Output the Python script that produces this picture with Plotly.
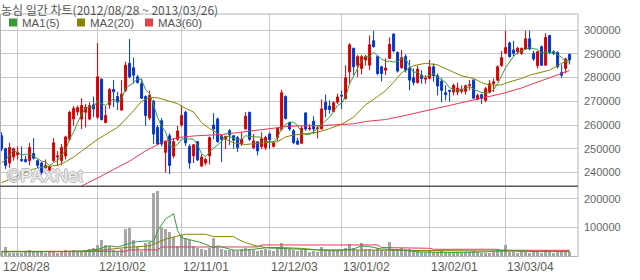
import plotly.graph_objects as go
import pandas as pd

W, H = 640, 280
def px(x): return x / W
def py(y): return 1 - y / H

# ---------------- data ----------------
opens = [255500,250000,244000,246500,247500,245500,245500,245000,248000,245000,
         244000,242000,241000,245000,246500,245000,247000,254000,262500,265500,
         262500,265400,262500,268500,263300,279300,261000,268500,275000,272000,
         266300,274600,286000,284100,280300,277400,272000,263000,270000,259000,
         261800,248500,255500,247000,254000,260000,265400,251000,247000,253000,
         242700,244000,247000,260000,262500,255500,254000,257600,255500,254700,
         252000,258300,265400,250500,252900,250900,250500,256200,251000,254800,
         258300,272000,261100,257600,253300,252300,265100,258300,261600,258500,
         258300,269600,268000,265700,269600,272500,271100,282400,292300,285200,
         283800,287400,285200,295500,288800,284500,283100,288100,298300,290600,
         284100,288800,284100,279900,277900,281000,279300,279600,284500,280700,
         278400,273600,274600,273900,273900,274200,274200,276700,278900,270800,
         272800,270400,273900,277400,278900,285000,290200,294500,291600,290900,
         290200,292000,296300,290200,285000,293000,285200,297700,290900,290600,
         282100,283800,289800]
highs = [257000,250500,252500,250500,251000,251000,247000,252500,254500,245500,
         244500,245500,243000,254500,249000,252000,255500,266000,268000,268200,
         271300,268900,269600,272000,294500,279600,268000,275500,279000,274000,
         279000,286700,296200,288400,281000,279600,272500,274500,270500,260000,
         263000,253300,256500,254500,259600,268200,266000,251900,252000,253300,
         247700,246200,255200,265000,263200,255500,255400,258300,255700,255400,
         256900,265400,265400,256200,253300,256900,255500,256900,253300,259000,
         274900,272500,261400,258300,254700,259700,265400,260400,263700,259700,
         270800,272800,270400,270000,273200,274600,285200,294500,292600,289500,
         289500,289500,297700,299700,289500,285000,288100,296900,298600,290900,
         291600,289800,287400,283800,285000,283100,281000,287400,286000,281700,
         279600,276700,274900,277400,277900,276700,277000,278900,279300,273200,
         273200,276000,278900,279600,285200,291200,299700,295200,295500,293000,
         292600,299700,299700,291200,291200,293500,298700,298000,291500,290900,
         285500,288400,290000]
lows = [249000,241500,242000,245000,245500,244500,244500,243000,245500,241500,
        239000,239500,240500,244500,243000,243000,245500,253200,259700,264000,
        258300,259000,262000,263300,262500,261900,260800,266800,267500,266300,
        266000,273900,279600,277400,277400,271100,259700,262000,252000,251500,
        251000,240000,239300,246000,253300,259300,251200,241600,244000,244800,
        242400,243000,243400,254000,252600,244400,249800,251500,250000,248700,
        251200,258300,253300,249800,247200,249800,249500,250000,250500,253300,
        257600,262300,257600,251900,251600,252200,257600,257600,256200,254300,
        258300,263300,264700,265400,268900,266800,270800,277500,281000,280300,
        281300,285000,283100,292600,281000,278400,281000,287800,290600,282100,
        283800,282100,274600,276700,277400,277400,277400,279300,278200,272500,
        269600,270400,269900,272500,272500,273200,272800,274600,271100,270400,
        268900,269600,273600,273900,278400,284500,289800,288400,288800,289800,
        289500,291600,291600,287000,283800,285000,285000,289800,289500,283800,
        279900,281700,285500]
closes = [250000,243000,250500,250000,248500,245000,244500,250500,246000,243000,
          240000,243000,242500,252500,247000,250500,255000,265400,267000,267300,
          268200,267500,268200,266800,280300,262300,264000,275000,274000,270000,
          273000,285200,280300,281000,277900,271300,264000,272500,256200,252000,
          252000,253300,243000,253000,257500,264000,252500,244000,251700,245300,
          246500,245500,254700,258300,253000,254000,255300,255800,253600,250500,
          254000,263700,254000,253300,249100,254200,254800,253800,252500,258600,
          273600,262800,258300,252600,251900,258600,258300,258700,258300,258800,
          266800,266500,266500,269400,271800,272200,279900,293800,284500,288800,
          288800,288800,293800,293000,281700,281700,284000,294000,291200,282700,
          288400,283100,278900,277900,283500,279600,279700,284500,280700,276400,
          274600,272800,274200,276700,275600,275000,276500,277000,271300,272500,
          271300,275300,277400,278200,284500,288400,292600,288800,290200,292300,
          292300,296300,292000,287800,290900,285200,296900,290600,290200,284500,
          281000,287800,287400]
volumes = [15000,31000,12000,10000,11000,12000,14000,20000,19000,13000,
           14000,12000,13000,18000,12000,14000,20000,15000,20000,14000,
           14000,21000,25000,28000,40000,57000,38000,36000,23000,18000,
           26000,95000,98000,55000,33000,18000,44000,49000,218000,226000,
           100000,95000,85000,65000,35000,72000,62000,55000,35000,28000,
           24000,22000,27000,63000,32000,25000,22000,20000,22000,18000,
           25000,30000,25000,22000,18000,20000,24000,20000,17000,32000,
           45000,30000,25000,20000,18000,22000,25000,16000,18000,15000,
           31000,22000,18000,20000,22000,20000,30000,42000,28000,22000,
           46000,25000,26000,22000,30000,20000,18000,50000,25000,22000,
           30000,24000,26000,20000,22000,15000,14000,18000,16000,13000,
           18000,14000,12000,15000,13000,12000,14000,16000,18000,13000,
           12000,10000,12000,13000,20000,22000,38000,15000,14000,10000,
           13000,15000,12000,16000,14000,12000,22000,14000,12000,13000,
           15000,20000,14000]

# first four MA1(5) values depend on days before the window
ma5_head = [244100, 245300, 247500, 249300]

ma20_idx = [0,4,8,11,14,16,18,20,22,24,26,29,31,33,35,37,39,42,44,46,48,50,52,54,56,58,
            61,64,67,69,71,73,76,79,82,85,88,91,94,96,98,100,103,106,109,112,115,118,
            120,122,125,127,130,132,135,137,140,142]
ma20_val = [235700,238500,241500,242500,243000,244500,246500,249000,251500,254000,256000,
            259000,262500,266000,270000,271600,271500,270000,269000,267000,265500,261000,
            258500,256500,254000,252500,251800,252300,252800,253000,255000,255800,256300,
            257000,258500,260300,263300,268500,272000,274500,278000,282000,285000,286000,
            285300,283100,280700,279600,277900,276700,276900,278200,279600,281000,282100,
            283100,286000,287400]

ma60_idx = [19,20,24,28,32,36,40,44,48,55,62,67,72,80,85,88,91,96,100,105,110,115,120,
            125,130,134,138,142]
ma60_val = [233500,234300,237700,241300,244800,249100,252600,254700,255400,256000,257500,
            258500,259500,259800,260200,260500,261500,262300,263700,265600,267500,269600,
            271600,273200,275600,278000,280500,283000]

vma5_idx = [0,10,15,20,24,27,29,32,34,37,38,39,41,43,44,45,48,50,53,54,58,61,66,70,74,79,
            84,88,90,92,95,100,104,113,121,126,133,142]
vma5_val = [16000,16000,17000,19000,25000,37000,33000,45000,52000,54000,50000,90000,130000,
            148000,90000,65000,54000,48000,30000,37000,22000,22000,30000,28000,27000,23000,
            20000,26000,37000,34000,26000,23000,16000,14000,16000,22000,17000,18000]

vma20_idx = [0,20,25,31,37,39,41,44,46,51,53,58,59,61,63,66,70,75,79,85,92,107,124,142]
vma20_val = [17000,17000,22000,31000,37000,48000,60000,71000,77000,77000,69000,69000,60000,
             48000,39000,31000,31000,28000,23000,23000,22000,20000,17000,17000]

vma60_idx = [0,31,32,39,40,64,65,94,95,100,101,107,108,124,125,142]
vma60_val = [18000,18000,23000,23000,33000,33000,40000,40000,31000,31000,28500,28500,
             25000,25000,21500,21500]

grid_idx = [4, 24, 45, 67, 85, 107, 126]
date_idx = [0, 24, 45, 67, 85, 107, 126]
date_txt = ["12/08/28", "12/10/02", "12/11/01", "12/12/03", "13/01/02", "13/02/01", "13/03/04"]
price_ticks = [240000, 250000, 260000, 270000, 280000, 290000, 300000]
vol_ticks = [100000, 200000]
legend_names = ["MA1(5)", "MA2(20)", "MA3(60)"]
title_text = "농심 일간 차트(2012/08/28 ~ 2013/03/26)"

# ---------------- styles ----------------
RED = "#d40000"
BLUE = "#0535c8"
GREEN = "#3a9a3a"
OLIVE = "#858500"
MA3C = "#e8385a"
GRID = "#c8c8c8"
TXT = "#5a5a5a"

idx = list(range(len(closes)))
ma5 = pd.Series(closes, dtype=float).rolling(5).mean()
ma5.iloc[:4] = ma5_head

fig = go.Figure()
fig.add_trace(go.Bar(x=idx, y=volumes, width=0.75, marker=dict(color="#a6a6a6", line=dict(width=0)),
                     xaxis="x", yaxis="y2", hoverinfo="skip"))
fig.add_trace(go.Scatter(x=vma60_idx, y=vma60_val, mode="lines", line=dict(color=MA3C, width=1),
                         xaxis="x", yaxis="y2"))
fig.add_trace(go.Scatter(x=vma20_idx, y=vma20_val, mode="lines", line=dict(color=OLIVE, width=1),
                         xaxis="x", yaxis="y2"))
fig.add_trace(go.Scatter(x=vma5_idx, y=vma5_val, mode="lines", line=dict(color=GREEN, width=1),
                         xaxis="x", yaxis="y2"))

fig.add_trace(go.Candlestick(x=idx, open=opens, high=highs, low=lows, close=closes,
                             increasing=dict(line=dict(color=RED, width=1), fillcolor=RED),
                             decreasing=dict(line=dict(color=BLUE, width=1), fillcolor=BLUE),
                             whiskerwidth=0, xaxis="x", yaxis="y", hoverinfo="skip"))
fig.add_trace(go.Scatter(x=ma60_idx, y=ma60_val, mode="lines", line=dict(color=MA3C, width=1),
                         xaxis="x", yaxis="y"))
fig.add_trace(go.Scatter(x=ma20_idx, y=ma20_val, mode="lines", line=dict(color=OLIVE, width=1),
                         xaxis="x", yaxis="y"))
fig.add_trace(go.Scatter(x=idx, y=ma5, mode="lines", line=dict(color=GREEN, width=1),
                         xaxis="x", yaxis="y"))

annotations = []
# title
annotations.append(dict(text=title_text, xref="paper", yref="paper", x=px(0), y=py(0),
                        xanchor="left", yanchor="top", showarrow=False, borderpad=0,
                        font=dict(family="Noto Sans CJK KR", size=12, color="#555555")))
# date labels
for d, t in zip(date_idx, date_txt):
    annotations.append(dict(text=t, xref="x", yref="paper", x=d, y=py(267), xanchor="left",
                            yanchor="middle", showarrow=False, xshift=-1,
                            font=dict(family="Liberation Sans", size=12, color=TXT)))
# watermark
annotations.append(dict(text="©PAXNet", xref="paper", yref="paper", x=px(5), y=py(176),
                        xanchor="left", yanchor="middle", showarrow=False,
                        font=dict(family="Liberation Sans", size=18, color="#eeeeee",
                                  shadow="1px 0 #b8b8b8, -1px 0 #b8b8b8, 0 1px #b8b8b8, 0 -1px #b8b8b8")))
# legend
leg_colors = [GREEN, OLIVE, "#e04444"]
leg_sq_x = [9, 77, 145]
shapes = []
for name, col, sx in zip(legend_names, leg_colors, leg_sq_x):
    shapes.append(dict(type="rect", xref="paper", yref="paper", x0=px(sx), x1=px(sx + 8),
                       y0=py(26.5), y1=py(18.5), fillcolor=col, line=dict(width=0)))
    annotations.append(dict(text=name, xref="paper", yref="paper", x=px(sx + 12), y=py(23),
                            xanchor="left", yanchor="middle", showarrow=False, borderpad=0,
                            font=dict(family="Liberation Sans", size=11.5, color="#555555")))

# frame and panel separator
shapes.append(dict(type="rect", xref="paper", yref="paper", x0=px(0.5), x1=px(578), y0=py(256.5),
                   y1=py(14), line=dict(color="#b4b4b4", width=1), fillcolor="rgba(0,0,0,0)"))
shapes.append(dict(type="line", xref="paper", yref="paper", x0=px(0), x1=px(578), y0=py(186.3),
                   y1=py(186.3), line=dict(color="#5a5a5a", width=1.5)))

fig.update_layout(
    width=W, height=H, margin=dict(l=0, r=0, t=0, b=0),
    paper_bgcolor="white", plot_bgcolor="white", showlegend=False,
    annotations=annotations, shapes=shapes,
    xaxis=dict(domain=[0, px(578)], range=[-0.4, 144.1], anchor="y2",
               tickvals=grid_idx, showticklabels=False, ticks="",
               showgrid=True, gridcolor=GRID, gridwidth=1, zeroline=False, showline=False,
               rangeslider=dict(visible=False)),
    yaxis=dict(domain=[py(186.3), py(14)], range=[234200, 306750], side="right", anchor="x",
               tickvals=price_ticks, ticktext=[str(v) for v in price_ticks], ticks="",
               tickfont=dict(family="Liberation Sans", size=11, color="#666666"),
               ticklabelstandoff=5,
               showgrid=True, gridcolor=GRID, gridwidth=1, zeroline=False, showline=False),
    yaxis2=dict(domain=[py(256.5), py(186.3)], range=[0, 243100], side="right", anchor="x",
                tickvals=vol_ticks, ticktext=[str(v) for v in vol_ticks], ticks="",
                tickfont=dict(family="Liberation Sans", size=11, color="#666666"),
                ticklabelstandoff=5,
                showgrid=True, gridcolor=GRID, gridwidth=1, zeroline=False, showline=False),
    bargap=0,
)

fig.write_html("out.html")
